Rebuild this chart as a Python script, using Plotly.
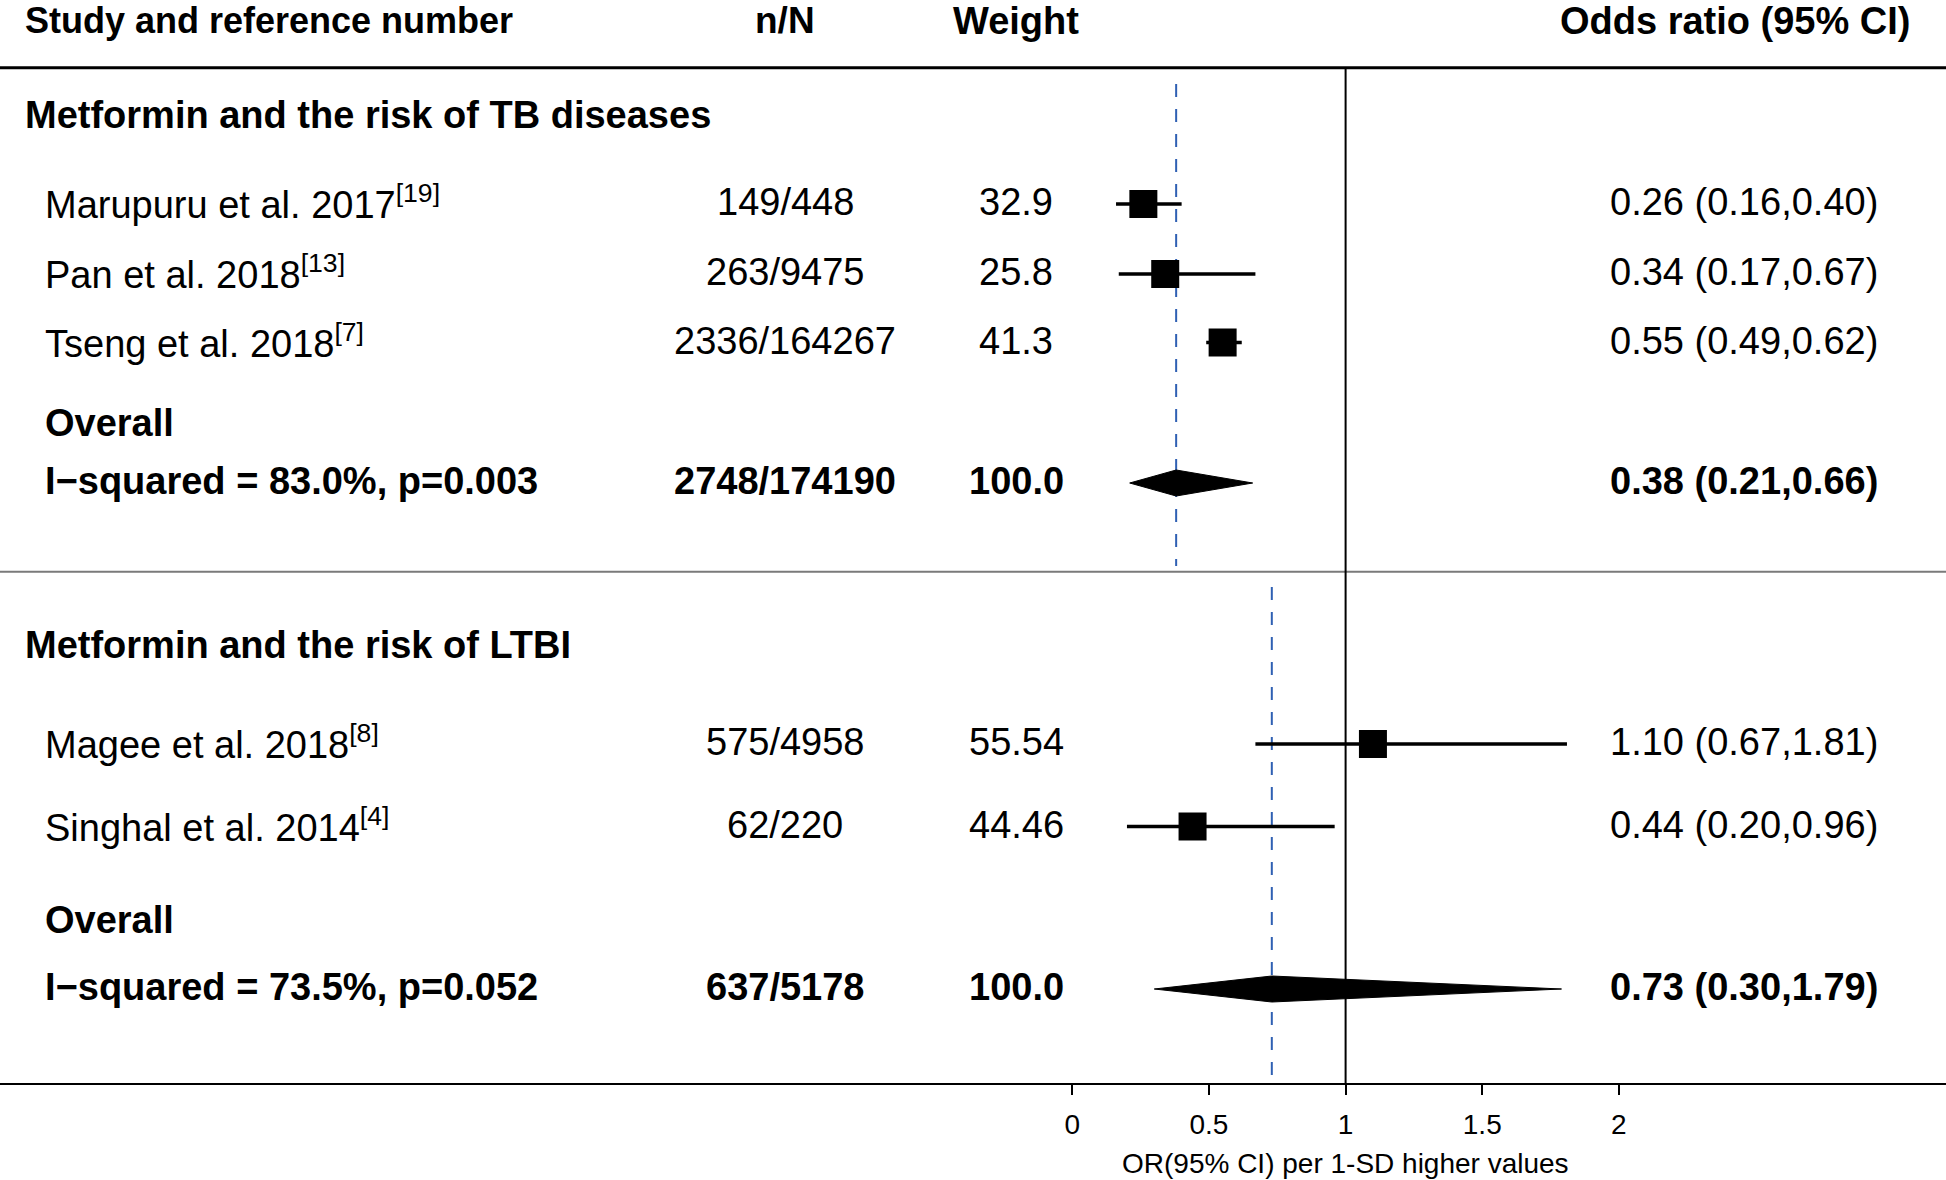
import plotly.graph_objects as go

# ---------------- data ----------------
tb_studies = ["Marupuru et al. 2017", "Pan et al. 2018", "Tseng et al. 2018"]
tb_refs = ["19", "13", "7"]
tb_nN = ["149/448", "263/9475", "2336/164267"]
tb_weight = ["32.9", "25.8", "41.3"]
tb_or = [0.26, 0.34, 0.55]
tb_lo = [0.16, 0.17, 0.49]
tb_hi = [0.40, 0.67, 0.62]
tb_pooled = [0.38, 0.21, 0.66]          # OR, lower, upper
tb_pooled_nN = "2748/174190"
tb_pooled_weight = "100.0"
tb_i2 = "83.0%"
tb_p = "0.003"

ltbi_studies = ["Magee et al. 2018", "Singhal et al. 2014"]
ltbi_refs = ["8", "4"]
ltbi_nN = ["575/4958", "62/220"]
ltbi_weight = ["55.54", "44.46"]
ltbi_or = [1.10, 0.44]
ltbi_lo = [0.67, 0.20]
ltbi_hi = [1.81, 0.96]
ltbi_pooled = [0.73, 0.30, 1.79]
ltbi_pooled_nN = "637/5178"
ltbi_pooled_weight = "100.0"
ltbi_i2 = "73.5%"
ltbi_p = "0.052"

group_titles = ["Metformin and the risk of TB diseases", "Metformin and the risk of LTBI"]
col_headers = ["Study and reference number", "n/N", "Weight", "Odds ratio (95% CI)"]
x_ticks = [0, 0.5, 1, 1.5, 2]
x_tick_labels = ["0", "0.5", "1", "1.5", "2"]
x_title = "OR(95% CI) per 1-SD higher values"
null_value = 1

# ---------------- layout / style ----------------
W, H = 1946, 1180
FONT = "Liberation Sans, Arial, Helvetica, sans-serif"
FS = 38
PX0, PXU = 1072.3, 273.3          # pixel of OR=0, pixels per OR unit
AXIS_Y = 1084
BLUE = "#2f60b3"

# row centres (pixel units of the y axis)
tb_rows = [204, 274, 342.5]
tb_overall_row, tb_pooled_row = 423, 483
ltbi_rows = [744, 826.5]
ltbi_overall_row, ltbi_pooled_row = 920, 989
header_row = 20.5
title_rows = [115, 645]
TOP_LINE, SEP_LINE = 67.7, 571.7

COL_STUDY, COL_GROUP = 43, 23
COL_NN, COL_WT, COL_OR_R, COL_OR_HDR = 785, 1016, 1880, 1735

fig = go.Figure()
ann = []


def txt(px, y, s, bold=False, anchor="left", size=FS):
    if bold:
        s = "<b>" + s + "</b>"
    ann.append(dict(x=px / W, xref="paper", y=y, yref="y", text=s, showarrow=False,
                    xanchor=anchor, yanchor="middle",
                    font=dict(size=size, color="black", family=FONT)))


def sup_name(name, ref):
    return name + "<sup>[" + ref + "]</sup>"


# headers
txt(COL_GROUP, header_row, col_headers[0], bold=True, size=36)
txt(COL_NN, header_row, col_headers[1], bold=True, anchor="center", size=37)
txt(COL_WT, header_row, col_headers[2], bold=True, anchor="center", size=38)
txt(COL_OR_HDR, header_row, col_headers[3], bold=True, anchor="center", size=38)


def add_group(title, title_row, studies, refs, nN, wt, orv, lo, hi, rows,
              overall_row, pooled_row, pooled, pooled_nN, pooled_wt, i2, p):
    txt(COL_GROUP, title_row, title, bold=True)
    for i in range(len(studies)):
        r = rows[i] - 2
        txt(COL_STUDY, r, sup_name(studies[i], refs[i]))
        txt(COL_NN, r, nN[i], anchor="center")
        txt(COL_WT, r, wt[i], anchor="center")
        txt(COL_OR_R, r, "%.2f (%.2f,%.2f)" % (orv[i], lo[i], hi[i]), anchor="right")
    txt(COL_STUDY, overall_row, "Overall", bold=True)
    pr = pooled_row - 2
    txt(COL_STUDY, pr, "I\u2212squared = %s, p=%s" % (i2, p), bold=True)
    txt(COL_NN, pr, pooled_nN, bold=True, anchor="center")
    txt(COL_WT, pr, pooled_wt, bold=True, anchor="center")
    txt(COL_OR_R, pr, "%.2f (%.2f,%.2f)" % tuple(pooled), bold=True, anchor="right")

    # study estimates with CIs
    fig.add_trace(go.Scatter(
        x=orv, y=rows, mode="markers",
        marker=dict(symbol="square", size=28, color="black", line=dict(width=0)),
        error_x=dict(type="data", symmetric=False,
                     array=[h - o for h, o in zip(hi, orv)],
                     arrayminus=[o - l for o, l in zip(orv, lo)],
                     width=0, thickness=3.5, color="black"),
        showlegend=False, hoverinfo="skip"))
    # pooled diamond
    o, l, h = pooled
    half = 13
    fig.add_trace(go.Scatter(
        x=[l, o, h, o, l], y=[pooled_row, pooled_row - half, pooled_row, pooled_row + half, pooled_row],
        mode="lines", fill="toself", fillcolor="black", line=dict(color="black", width=1),
        showlegend=False, hoverinfo="skip"))
    return o


o1 = add_group(group_titles[0], title_rows[0], tb_studies, tb_refs, tb_nN, tb_weight, tb_or, tb_lo, tb_hi,
               tb_rows, tb_overall_row, tb_pooled_row, tb_pooled, tb_pooled_nN, tb_pooled_weight, tb_i2, tb_p)
o2 = add_group(group_titles[1], title_rows[1], ltbi_studies, ltbi_refs, ltbi_nN, ltbi_weight, ltbi_or, ltbi_lo,
               ltbi_hi, ltbi_rows, ltbi_overall_row, ltbi_pooled_row, ltbi_pooled, ltbi_pooled_nN,
               ltbi_pooled_weight, ltbi_i2, ltbi_p)

# x axis title
txt(PX0 + PXU * null_value, 1163, x_title, anchor="center", size=28)

shapes = [
    dict(type="line", xref="paper", yref="y", x0=0, x1=1, y0=TOP_LINE, y1=TOP_LINE,
         line=dict(color="black", width=3)),
    dict(type="line", xref="paper", yref="y", x0=0, x1=1, y0=SEP_LINE, y1=SEP_LINE,
         line=dict(color="#7a7a7a", width=2)),
    dict(type="line", xref="x", yref="y", x0=null_value, x1=null_value, y0=TOP_LINE, y1=AXIS_Y,
         line=dict(color="black", width=2)),
    dict(type="line", xref="x", yref="y", x0=o1, x1=o1, y0=84, y1=566, layer="below",
         line=dict(color=BLUE, width=2, dash="13px,12px")),
    dict(type="line", xref="x", yref="y", x0=o2, x1=o2, y0=587, y1=1078, layer="below",
         line=dict(color=BLUE, width=2, dash="13px,12px")),
]

fig.update_layout(
    width=W, height=H, autosize=False,
    margin=dict(l=0, r=0, t=0, b=0, pad=0),
    paper_bgcolor="white", plot_bgcolor="white",
    showlegend=False,
    annotations=ann, shapes=shapes,
    xaxis=dict(range=[-PX0 / PXU, (W - PX0) / PXU], anchor="free", position=(H - AXIS_Y) / H,
               showgrid=False, zeroline=False, showline=True, linecolor="black", linewidth=2,
               ticks="outside", ticklen=10, tickwidth=2, tickcolor="black",
               tickvals=x_ticks, ticktext=x_tick_labels, ticklabelstandoff=5,
               tickfont=dict(size=28, color="black", family=FONT), fixedrange=True),
    yaxis=dict(range=[H, 0], domain=[0, 1], visible=False, showgrid=False, zeroline=False,
               fixedrange=True),
)

fig.write_html("out.html", config={"displayModeBar": False},
               post_script="document.body.style.margin='0';")
